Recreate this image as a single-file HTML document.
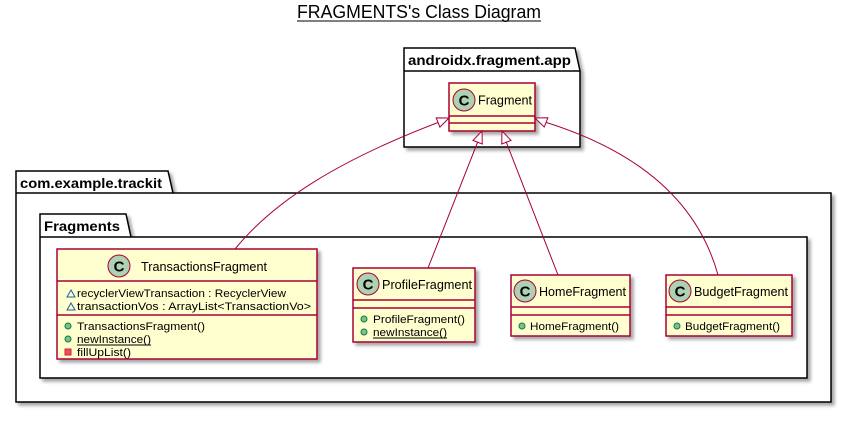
<!DOCTYPE html>
<html><head><meta charset="utf-8"><style>
html,body{margin:0;padding:0;background:#fff;width:847px;height:437px;overflow:hidden}
svg{display:block;font-family:"Liberation Sans",sans-serif}
.cls{fill:#FEFECE;stroke:#A80036;stroke-width:1.5}
.pk{fill:#fff;stroke:#000;stroke-width:1.5}
.ln{stroke:#A80036;stroke-width:1.5}
.ed{fill:none;stroke:#A80036;stroke-width:1}
.ar{fill:#fff;stroke:#A80036;stroke-width:1}
.ci{fill:#ADD1B2;stroke:#A80036;stroke-width:1}
.cc{font-weight:bold;font-size:15px;fill:#000}
.nm{font-size:13px;fill:#000}
.mb{font-size:11px;fill:#000}
.pl{font-size:14px;font-weight:bold;fill:#000}
.pub{fill:#84BE84;stroke:#038048;stroke-width:1}
</style></head><body>
<svg width="847" height="437" viewBox="0 0 847 437" xmlns="http://www.w3.org/2000/svg">
<defs><filter id="sh" x="-10%" y="-10%" width="130%" height="130%"><feGaussianBlur in="SourceAlpha" stdDeviation="1.5"/><feOffset dx="3" dy="3"/><feComponentTransfer><feFuncA type="linear" slope="0.35"/></feComponentTransfer><feMerge><feMergeNode/><feMergeNode in="SourceGraphic"/></feMerge></filter></defs>

<text x="419" y="18" text-anchor="middle" font-size="18" textLength="244" lengthAdjust="spacingAndGlyphs">FRAGMENTS's Class Diagram</text>
<line x1="297" y1="21" x2="541" y2="21" stroke="#000" stroke-width="1"/>

<!-- androidx package -->
<g filter="url(#sh)">
<path class="pk" d="M404,48 H575 L580,71 V147 H404 Z"/>
</g>
<line x1="404" y1="71" x2="580" y2="71" stroke="#000" stroke-width="1.5"/>
<text class="pl" x="408" y="65" textLength="163" lengthAdjust="spacingAndGlyphs">androidx.fragment.app</text>

<!-- trackit package -->
<g filter="url(#sh)">
<path class="pk" d="M16,171 H168 L173,193 H831 V402 H16 Z"/>
</g>
<line x1="16" y1="193" x2="173" y2="193" stroke="#000" stroke-width="1.5"/>
<text class="pl" x="20" y="188" textLength="142" lengthAdjust="spacingAndGlyphs">com.example.trackit</text>

<!-- Fragments package -->
<g filter="url(#sh)">
<path class="pk" d="M40,214 H126 L131,237 H807 V378 H40 Z"/>
</g>
<line x1="40" y1="237" x2="131" y2="237" stroke="#000" stroke-width="1.5"/>
<text class="pl" x="44" y="231" textLength="76" lengthAdjust="spacingAndGlyphs">Fragments</text>

<!-- Fragment class -->
<g filter="url(#sh)"><rect class="cls" x="449" y="83" width="86" height="48"/></g>
<line class="ln" x1="449" y1="116" x2="535" y2="116"/>
<line class="ln" x1="449" y1="123" x2="535" y2="123"/>
<circle class="ci" cx="464" cy="100" r="11"/>
<text class="cc" x="464" y="105.5" text-anchor="middle">C</text>
<text class="nm" x="478" y="104.5" textLength="54" lengthAdjust="spacingAndGlyphs">Fragment</text>

<!-- TransactionsFragment -->
<g filter="url(#sh)"><rect class="cls" x="57" y="249" width="260" height="110"/></g>
<line class="ln" x1="57" y1="281" x2="317" y2="281"/>
<line class="ln" x1="57" y1="315" x2="317" y2="315"/>
<circle class="ci" cx="119" cy="266" r="11"/>
<text class="cc" x="119" y="271.5" text-anchor="middle">C</text>
<text class="nm" x="141" y="271" textLength="126" lengthAdjust="spacingAndGlyphs">TransactionsFragment</text>
<polygon points="67,297 71,290 75,297" fill="none" stroke="#1963A0" stroke-width="1"/>
<text class="mb" x="77" y="297" textLength="209" lengthAdjust="spacingAndGlyphs">recyclerViewTransaction : RecyclerView</text>
<polygon points="67,310 71,303 75,310" fill="none" stroke="#1963A0" stroke-width="1"/>
<text class="mb" x="77" y="310" textLength="234" lengthAdjust="spacingAndGlyphs">transactionVos : ArrayList&lt;TransactionVo&gt;</text>
<circle class="pub" cx="68" cy="326" r="3"/>
<text class="mb" x="77" y="330" textLength="128" lengthAdjust="spacingAndGlyphs">TransactionsFragment()</text>
<circle class="pub" cx="68" cy="339" r="3"/>
<text class="mb" x="77" y="343" textLength="74" lengthAdjust="spacingAndGlyphs">newInstance()</text>
<line x1="77" y1="345" x2="151" y2="345" stroke="#000" stroke-width="1"/>
<rect x="65" y="349" width="6" height="6" fill="#F24D5C" stroke="#C82930" stroke-width="1"/>
<text class="mb" x="77" y="356" textLength="54" lengthAdjust="spacingAndGlyphs">fillUpList()</text>

<!-- ProfileFragment -->
<g filter="url(#sh)"><rect class="cls" x="353" y="268" width="122" height="74"/></g>
<line class="ln" x1="353" y1="300" x2="475" y2="300"/>
<line class="ln" x1="353" y1="308" x2="475" y2="308"/>
<circle class="ci" cx="368" cy="284" r="11"/>
<text class="cc" x="368" y="289.5" text-anchor="middle">C</text>
<text class="nm" x="382" y="289" textLength="90" lengthAdjust="spacingAndGlyphs">ProfileFragment</text>
<circle class="pub" cx="364" cy="319" r="3"/>
<text class="mb" x="373" y="323" textLength="92" lengthAdjust="spacingAndGlyphs">ProfileFragment()</text>
<circle class="pub" cx="364" cy="332" r="3"/>
<text class="mb" x="373" y="336" textLength="74" lengthAdjust="spacingAndGlyphs">newInstance()</text>
<line x1="373" y1="338" x2="447" y2="338" stroke="#000" stroke-width="1"/>

<!-- HomeFragment -->
<g filter="url(#sh)"><rect class="cls" x="511" y="275" width="119" height="61"/></g>
<line class="ln" x1="511" y1="307" x2="630" y2="307"/>
<line class="ln" x1="511" y1="315" x2="630" y2="315"/>
<circle class="ci" cx="525" cy="291" r="11"/>
<text class="cc" x="525" y="296.5" text-anchor="middle">C</text>
<text class="nm" x="539" y="296" textLength="87" lengthAdjust="spacingAndGlyphs">HomeFragment</text>
<circle class="pub" cx="522" cy="326" r="3"/>
<text class="mb" x="530" y="330" textLength="89" lengthAdjust="spacingAndGlyphs">HomeFragment()</text>

<!-- BudgetFragment -->
<g filter="url(#sh)"><rect class="cls" x="666" y="275" width="126" height="61"/></g>
<line class="ln" x1="666" y1="307" x2="792" y2="307"/>
<line class="ln" x1="666" y1="315" x2="792" y2="315"/>
<circle class="ci" cx="680" cy="291" r="11"/>
<text class="cc" x="680" y="296.5" text-anchor="middle">C</text>
<text class="nm" x="694" y="296" textLength="94" lengthAdjust="spacingAndGlyphs">BudgetFragment</text>
<circle class="pub" cx="677" cy="326" r="3"/>
<text class="mb" x="685" y="330" textLength="95" lengthAdjust="spacingAndGlyphs">BudgetFragment()</text>

<!-- edges -->
<path class="ed" d="M438,122.5 C340,160 275,200 235,249"/>
<polygon class="ar" points="449,118 439.9,127.1 436.2,117.9"/>
<path class="ed" d="M477.6,142.2 L428,268"/>
<polygon class="ar" points="482,131 482.3,144 473,140.4"/>
<path class="ed" d="M506.3,142.2 L558,275"/>
<polygon class="ar" points="502,131 511,140.4 501.7,144"/>
<path class="ed" d="M546,122.4 C650,155 700,210 718,275"/>
<polygon class="ar" points="535,118 544.2,127 547.9,117.8"/>
</svg>
</body></html>
